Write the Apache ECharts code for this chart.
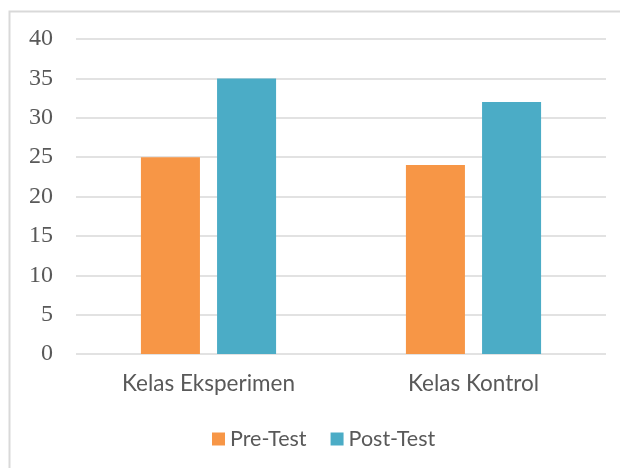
<!DOCTYPE html>
<html><head><meta charset="utf-8">
<script src="https://cdn.jsdelivr.net/npm/echarts@6/dist/echarts.min.js"></script>
<style>html,body{margin:0;padding:0;background:#fff}#c{width:620px;height:468px}</style>
</head><body><div id="c"></div>
<script>
const categories = ['Kelas Eksperimen', 'Kelas Kontrol'];
const preTest = [25, 24];
const postTest = [35, 32];
const seriesNames = ['Pre-Test', 'Post-Test'];
const yMin = 0, yMax = 40, yStep = 5;

const chart = echarts.init(document.getElementById('c'), null, {renderer: 'canvas'});
chart.setOption({
  animation: false,
  backgroundColor: '#fff',
  graphic: [{
    type: 'polyline', silent: true,
    shape: {points: [[9.5, 470], [9.5, 11.5], [625, 11.5]]},
    style: {stroke: '#D9D9D9', lineWidth: 2, fill: null}
  }],
  grid: {left: 76, right: 14, top: 39, bottom: 114, containLabel: false},
  legend: {
    data: seriesNames, bottom: 13, left: 207,
    itemWidth: 13, itemHeight: 13, itemGap: 24, icon: 'rect',
    textStyle: {color: '#595959', fontSize: 21.5, fontFamily: 'Lato, "Noto Sans", sans-serif'}
  },
  xAxis: {
    type: 'category', data: categories,
    axisLine: {show: false}, axisTick: {show: false},
    axisLabel: {color: '#595959', fontSize: 22.5, margin: 18, fontFamily: 'Lato, "Noto Sans", sans-serif'}
  },
  yAxis: {
    type: 'value', min: yMin, max: yMax, interval: yStep,
    axisLine: {show: false}, axisTick: {show: false},
    splitLine: {lineStyle: {color: '#D9D9D9', width: 1.5}},
    axisLabel: {color: '#595959', fontSize: 24, margin: 23, fontFamily: '"Liberation Serif", serif'}
  },
  series: [
    {name: seriesNames[0], type: 'bar', data: preTest, barGap: '29%', barCategoryGap: '49%',
     itemStyle: {color: '#F79646'}},
    {name: seriesNames[1], type: 'bar', data: postTest,
     itemStyle: {color: '#4BACC6'}}
  ]
});
</script></body></html>
